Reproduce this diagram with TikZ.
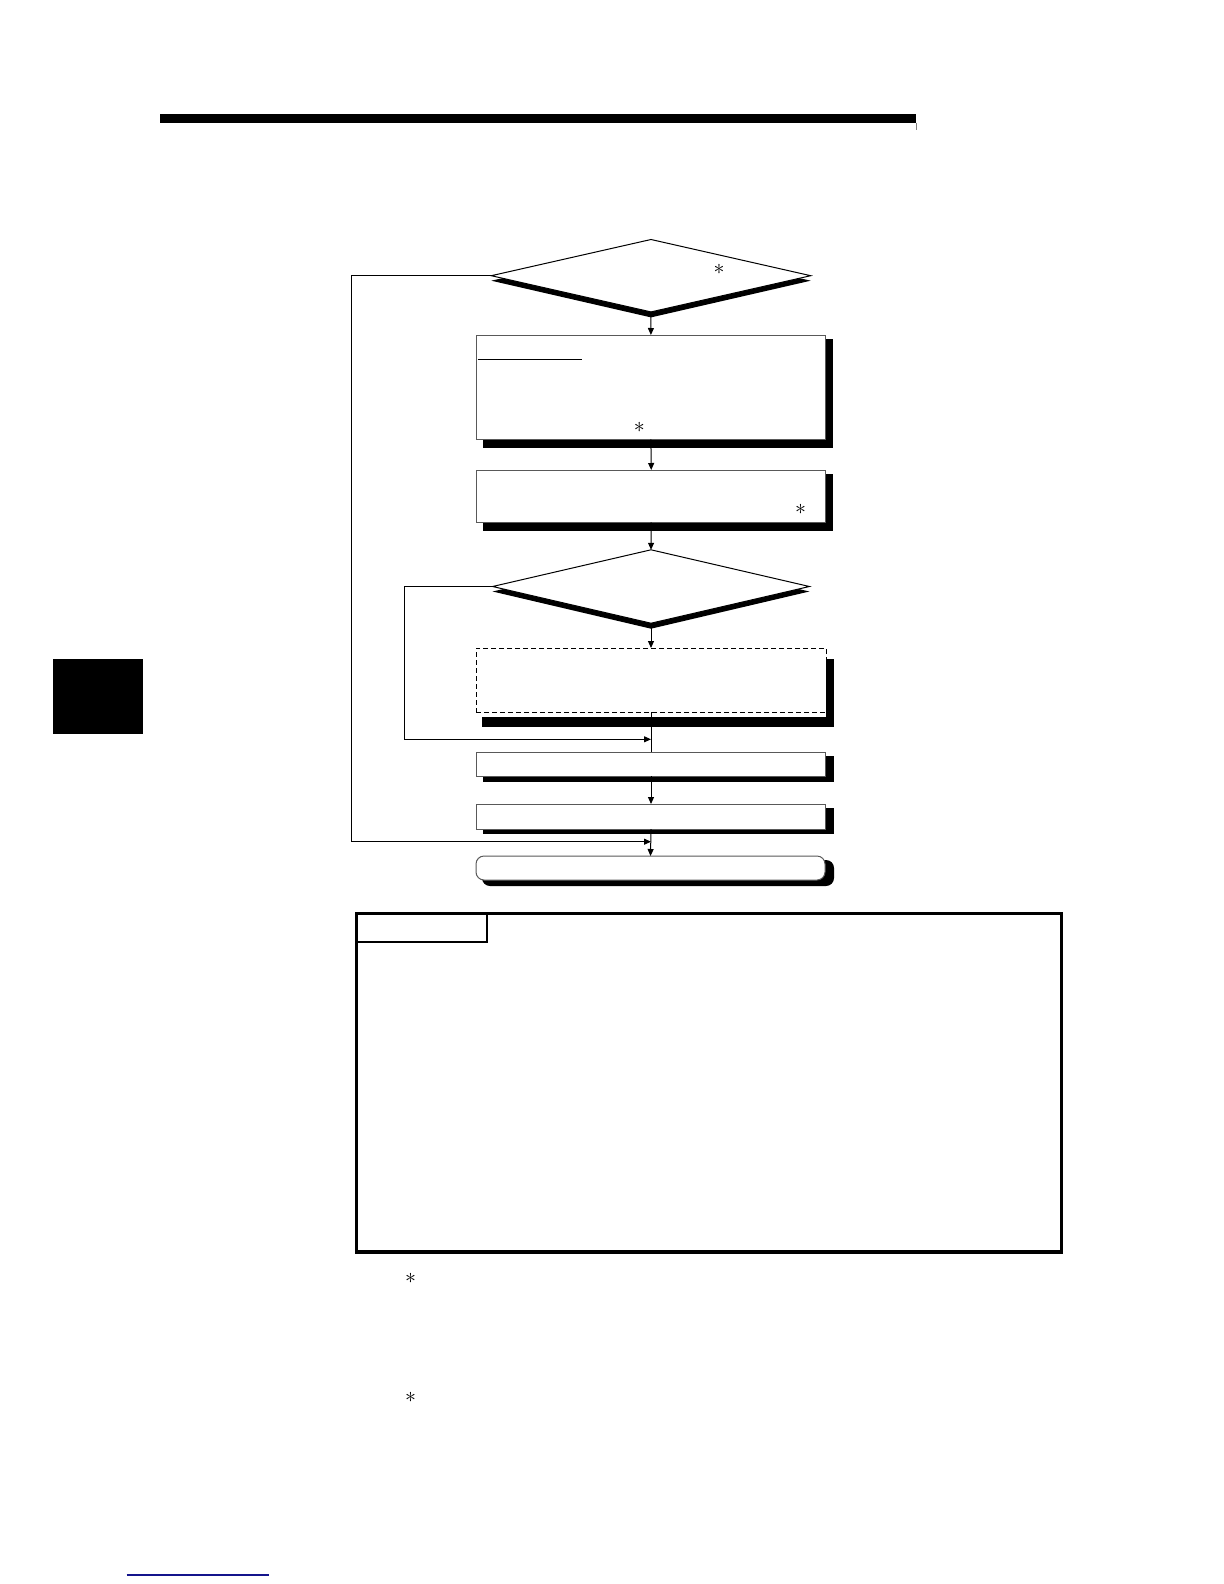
\documentclass[tikz,border=0pt]{standalone}
\usetikzlibrary{shapes.geometric,arrows.meta,backgrounds}
\definecolor{linkblue}{RGB}{20,20,140}
\tikzset{
  boxst/.style={draw=black!65, line width=0.5pt, fill=white, rectangle, inner sep=0pt, outer sep=0pt, anchor=north west},
  dbox/.style={boxst, draw=black, dashed, dash pattern=on 2.5pt off 1.5pt},
  termst/.style={boxst, rounded corners=4pt},
  decst/.style={draw=black, line width=0.5pt, fill=white, diamond, inner sep=0pt, outer sep=0pt},
  conn/.style={draw=black, line width=0.5pt},
  arr/.style={conn, -{Triangle[length=3.5pt,width=3pt]}},
  starst/.style={inner sep=0pt, font=\fontsize{11}{13}\selectfont}
}
\begin{document}
\begin{tikzpicture}[x=0.5pt,y=-0.5pt]
\useasboundingbox (0,0) rectangle (1224,1584);
% page decorations
\fill (160,114) rectangle (916,122.7);
\draw[black!50, line width=0.3pt] (916.5,122.7) -- (916.5,130);
\fill (52.5,659) rectangle (142.5,734);
\draw[linkblue, line width=0.8pt] (126.5,1575) -- (269,1575);

% flowchart nodes
\node[decst, minimum width=159.7pt, minimum height=36.2pt] (d1) at (651,275.7) {};
\node[boxst, minimum width=174.2pt, minimum height=52.15pt] (b1) at (476.7,335) {};
\node[boxst, minimum width=174.5pt, minimum height=26.15pt] (b2) at (476.7,470) {};
\node[decst, minimum width=158.4pt, minimum height=36.7pt] (d2) at (651,586.5) {};
\node[dbox, minimum width=175pt, minimum height=32pt] (db) at (476,648) {};
\node[boxst, minimum width=174.5pt, minimum height=12pt] (b3) at (476.5,752) {};
\node[boxst, minimum width=174.5pt, minimum height=12.5pt] (b4) at (476.5,804) {};
\node[termst, minimum width=174.5pt, minimum height=12pt] (t) at (476,856) {};

% shadows
\begin{scope}[on background layer]
\fill ([shift={(0,5)}]d1.west) -- ([shift={(0,5.5)}]d1.south) -- ([shift={(0,5)}]d1.east) -- ([shift={(0,5)}]d1.north) -- cycle;
\fill ([shift={(0,5)}]d2.west) -- ([shift={(0,5.5)}]d2.south) -- ([shift={(0,5)}]d2.east) -- ([shift={(0,5)}]d2.north) -- cycle;
\fill ([shift={(6,4)}]b1.north west) rectangle ([shift={(8,9)}]b1.south east);
\fill ([shift={(6,4)}]b2.north west) rectangle ([shift={(7,9)}]b2.south east);
\fill ([shift={(6,11)}]db.north west) rectangle ([shift={(8,15)}]db.south east);
\fill[white] (db.north west) rectangle ([shift={(0,5)}]db.south east);
\fill ([shift={(6,4)}]b3.north west) rectangle ([shift={(8,6)}]b3.south east);
\fill ([shift={(6,4)}]b4.north west) rectangle ([shift={(8,5)}]b4.south east);
\fill[rounded corners=4pt] ([shift={(6,4)}]t.north west) rectangle ([shift={(9,6)}]t.south east);
\end{scope}

% underline in first box
\draw[conn] (477.7,359) -- (581.7,359);

% asterisks
\node[starst] (s1) at (719,269) {$\ast$};
\node[starst] (s2) at (639.3,427.3) {$\ast$};
\node[starst] (s3) at (800.7,509.3) {$\ast$};

% junction points
\coordinate (j1) at (651,739.3);
\coordinate (j2) at (651,841.7);
\coordinate (l1a) at (351,275.7);
\coordinate (l1b) at (351,841.7);
\coordinate (l2a) at (404,586.5);
\coordinate (l2b) at (404,739.3);

% connectors
\draw[arr] (d1.south) -- (b1.north);
\draw[arr] (b1.south) -- (b2.north);
\draw[arr] (b2.south) -- (d2.north);
\draw[arr] (d2.south) -- (db.north);
\draw[conn] (db.south) -- (b3.north);
\draw[arr] (b3.south) -- (b4.north);
\draw[arr] (b4.south) -- (t.north);
\draw[arr] (d1.west) -- (l1a) -- (l1b) -- (j2);
\draw[arr] (d2.west) -- (l2a) -- (l2b) -- (j1);

% lower frame
\draw[line width=1.65pt] (356.7,913.3) rectangle (1061.7,1252);
\draw[line width=0.9pt] (356.7,941.7) -- (486.7,941.7) -- (486.7,913.3);

% footnote asterisks
\node[starst] (f1) at (410.7,1278.3) {$\ast$};
\node[starst] (f2) at (410.7,1397.3) {$\ast$};
\end{tikzpicture}
\end{document}
